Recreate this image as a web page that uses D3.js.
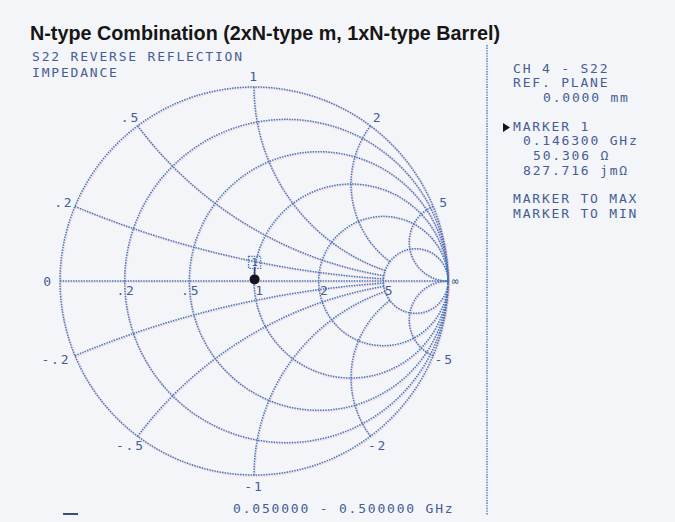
<!DOCTYPE html>
<html>
<head>
<meta charset="utf-8">
<script src="https://cdn.jsdelivr.net/npm/d3@7"></script>
<style>
  body { margin: 0; background: #f4f5f8; }
  svg { display: block; }
  .mono { font-family: "DejaVu Sans Mono", monospace; font-size: 13px; letter-spacing: 1.8px; fill: #455d96; }
</style>
</head>
<body>
<svg width="675" height="522"></svg>
<script>
// values
var title = "N-type Combination (2xN-type m, 1xN-type Barrel)";
var resistances = [0.2, 0.5, 1, 2, 5];
var reactances = [0.2, 0.5, 1, 2, 5];
var resistanceLabels = [".2", ".5", "1", "2", "5"];
var reactanceLabels = [".2", ".5", "1", "2", "5"];
var negReactanceLabels = ["-.2", "-.5", "-1", "-2", "-5"];
var z0 = 50;
var markerFreq = 0.1463;   // GHz
var markerR = 50.306;      // ohm
var markerX = 0.827716;    // ohm
var sweep = [0.05, 0.5];   // GHz

var svg = d3.select("svg");

var sx = d3.scaleLinear().domain([-1, 1]).range([60, 448]),
    sy = d3.scaleLinear().domain([-1, 1]).range([475, 87]);

// z -> reflection coefficient
function gamma(r, x) {
  var d = (r + 1) * (r + 1) + x * x;
  return [(r * r + x * x - 1) / d, 2 * x / d];
}

var lineCol = "#3b78c0",
    pink = "#e7a3b8";

var grid = svg.append("g");

function dotted(sel) {
  return sel.attr("fill", "none")
    .attr("stroke", lineCol)
    .attr("stroke-width", 1.5)
    .attr("stroke-dasharray", "1.4,1.2");
}

function drawBoth(fn) {
  // pink halo from the print, then the blue dots
  var h = fn(grid.append("g").attr("transform", "translate(0.6,0.7)"));
  h.attr("stroke", pink).attr("stroke-width", 2.4).attr("opacity", 0.5);
  fn(grid.append("g"));
}

function gridLines(g) {
  // outer circle + resistance circles
  var all = g.selectAll("circle")
    .data([0].concat(resistances))
    .enter().append("circle")
      .attr("cx", function(r) { return sx(r / (r + 1)); })
      .attr("cy", sy(0))
      .attr("r", function(r) { return sx(1 / (r + 1)) - sx(0); });
  dotted(all);

  // real axis
  dotted(g.append("line")
    .attr("x1", sx(-1)).attr("x2", sx(1))
    .attr("y1", sy(0)).attr("y2", sy(0)));

  // reactance arcs, stopping at r=5 except the x=5 arcs
  var line = d3.line()
    .x(function(p) { return sx(p[0]); })
    .y(function(p) { return sy(p[1]); })
    .curve(d3.curveCatmullRom);
  var arcs = [];
  reactances.forEach(function(x) {
    var rEnd = x >= 5 ? 5000 : 5;
    [x, -x].forEach(function(xx) {
      var pts = [];
      for (var i = 0; i <= 200; i++) {
        var t = i / 200;
        var r = x >= 5 ? Math.pow(t, 3) * rEnd : t * rEnd;
        pts.push(gamma(r, xx));
      }
      arcs.push(pts);
    });
  });
  dotted(g.selectAll("path.arc")
    .data(arcs)
    .enter().append("path")
      .attr("class", "arc")
      .attr("d", line));
  return g.selectAll("circle, line, path");
}

drawBoth(gridLines);

// labels round the outside
var outer = [];
reactances.forEach(function(x, i) {
  outer.push({x: x, label: reactanceLabels[i]});
  outer.push({x: -x, label: negReactanceLabels[i]});
});
outer.push({x: 0, label: "0"});

var labG = svg.append("g");
labG.selectAll("text.outer")
  .data(outer)
  .enter().append("text")
    .attr("class", "mono outer")
    .attr("text-anchor", "middle")
    .attr("dominant-baseline", "central")
    .attr("x", function(d) {
      var p = gamma(0, d.x);
      // minus labels on the left sit a little further out
      return sx(p[0]) + p[0] * 12 - (d.x < 0 && p[0] < -0.8 ? 8 : 0);
    })
    .attr("y", function(d) { var p = gamma(0, d.x); return sy(p[1]) - p[1] * 11; })
    .text(function(d) { return d.label; });

labG.append("text")
  .attr("class", "mono")
  .style("font-size", "11px")
  .attr("text-anchor", "middle")
  .attr("dominant-baseline", "central")
  .attr("x", sx(1) + 8)
  .attr("y", sy(0))
  .text("\u221e");

labG.selectAll("text.res")
  .data(resistances)
  .enter().append("text")
    .attr("class", "mono res")
    .attr("text-anchor", "end")
    .attr("x", function(r) { return sx((r - 1) / (r + 1)) + 11; })
    .attr("y", sy(0) + 14)
    .text(function(r, i) { return resistanceLabels[i]; });

// marker 1
var zn = [markerR / z0, markerX / z0];
var gm = gamma(zn[0], zn[1]);
var mx = sx(gm[0]), my = sy(gm[1]);

svg.append("line")
  .attr("x1", mx).attr("x2", mx)
  .attr("y1", my).attr("y2", my - 12)
  .attr("stroke", "#2a3a66").attr("stroke-width", 1.5);
svg.append("rect")
  .attr("x", mx - 6).attr("y", my - 23)
  .attr("width", 12).attr("height", 12)
  .attr("fill", "none")
  .attr("stroke", lineCol).attr("stroke-width", 1.4)
  .attr("stroke-dasharray", "1.4,1.2");
svg.append("text")
  .attr("class", "mono")
  .style("font-size", "11px")
  .style("letter-spacing", "0px")
  .attr("text-anchor", "middle")
  .attr("x", mx).attr("y", my - 13)
  .text("1");
svg.append("circle")
  .attr("cx", mx).attr("cy", my).attr("r", 5)
  .attr("fill", "#14151f");

// title and left header
svg.append("text")
  .attr("x", 30).attr("y", 40)
  .style("font", "bold 19.5px 'Liberation Sans', Arial, sans-serif")
  .attr("fill", "#161616")
  .attr("textLength", 470)
  .attr("lengthAdjust", "spacingAndGlyphs")
  .text(title);

var left = [["S22 REVERSE REFLECTION", 32, 61], ["IMPEDANCE", 32, 77]];
svg.selectAll("text.hdr")
  .data(left)
  .enter().append("text")
    .attr("class", "mono hdr")
    .attr("x", function(d) { return d[1]; })
    .attr("y", function(d) { return d[2]; })
    .text(function(d) { return d[0]; });

// right panel
svg.append("line")
  .attr("x1", 487).attr("x2", 487)
  .attr("y1", 45).attr("y2", 515)
  .attr("stroke", lineCol).attr("stroke-width", 1.4)
  .attr("stroke-dasharray", "1.4,1.2");

var panel = [
  ["CH 4 - S22", 513, 73],
  ["REF. PLANE", 513, 87],
  ["0.0000 mm", 543, 102],
  ["MARKER 1", 513, 131],
  [d3.format(".6f")(markerFreq) + " GHz", 523, 145],
  [d3.format(".3f")(markerR) + " \u03a9", 533, 160],
  [d3.format(".3f")(markerX * 1000) + " jm\u03a9", 523, 175],
  ["MARKER TO MAX", 513, 203],
  ["MARKER TO MIN", 513, 218]
];
svg.selectAll("text.panel")
  .data(panel)
  .enter().append("text")
    .attr("class", "mono panel")
    .attr("x", function(d) { return d[1]; })
    .attr("y", function(d) { return d[2]; })
    .text(function(d) { return d[0]; });

svg.append("path")
  .attr("d", "M503,123 L510,127.5 L503,132 Z")
  .attr("fill", "#14151f");

// sweep range
svg.append("text")
  .attr("class", "mono")
  .attr("x", 233).attr("y", 513)
  .text(d3.format(".6f")(sweep[0]) + " - " + d3.format(".6f")(sweep[1]) + " GHz");

svg.append("line")
  .attr("x1", 63).attr("x2", 78)
  .attr("y1", 514).attr("y2", 514)
  .attr("stroke", "#34506e").attr("stroke-width", 2);
</script>
</body>
</html>
